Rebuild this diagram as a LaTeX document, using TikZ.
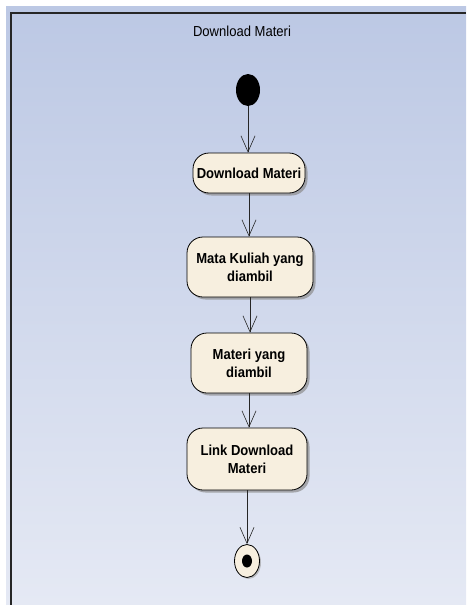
\documentclass[tikz,border=0pt]{standalone}
\usepackage{fontspec}
\newfontfamily\umlfont[FakeStretch=0.9]{Liberation Sans}
\usetikzlibrary{arrows.meta}
\usetikzlibrary{shapes.geometric}
\usetikzlibrary{shadows}

\definecolor{bgtop}{HTML}{BCC8E4}
\definecolor{bgbottom}{HTML}{E5E9F4}
\definecolor{actfill}{HTML}{F7EFDF}

\begin{document}
\begin{tikzpicture}[x=1pt,y=-1pt,
    font=\umlfont\fontsize{14.5}{18}\selectfont,
    action/.style={draw=black, line width=0.8pt, fill=actfill, rounded corners=16pt, align=center,
      font=\umlfont\bfseries\fontsize{14.5}{18}\selectfont, inner sep=0pt,
      drop shadow={shadow xshift=2.5pt, shadow yshift=-2.5pt, fill=black!45, opacity=0.7}},
    flow/.style={draw=black!85, line width=0.6pt, -{Straight Barb[length=16pt,width=14pt]}}]
      \useasboundingbox (0,0) rectangle (466,605);
      \fill [white] (0,0) rectangle (466,605);
      \shade [top color=bgtop, bottom color=bgbottom] (6,6) rectangle (466,605);
      \draw [black!85, line width=1.6pt] (11,605) -- (11,13) -- (466,13);

      \node (title) at (242,31) {Download Materi};

      \node [ellipse, fill=black, minimum width=24pt, minimum height=32pt, inner sep=0] (start) at (248,90) {};

      \node [action, minimum width=112pt, minimum height=40pt] (a1) at (249,173) {Download Materi};
      \node [action, minimum width=126pt, minimum height=60pt] (a2) at (250,267) {Mata Kuliah yang\\diambil};
      \node [action, minimum width=116pt, minimum height=60pt] (a3) at (249,363) {Materi yang\\diambil};
      \node [action, minimum width=120pt, minimum height=62pt] (a4) at (247,459) {Link Download\\Materi};

      \node [ellipse, draw=black, line width=0.8pt, fill=actfill, minimum width=25pt, minimum height=33pt, inner sep=0,
        drop shadow={shadow xshift=1.5pt, shadow yshift=-1.5pt, fill=black!40, opacity=0.6}] (end) at (247,561) {};
      \node [ellipse, fill=black, minimum width=10pt, minimum height=13pt, inner sep=0] (enddot) at (end.center) {};

      \draw [flow] (start) -- (start |- a1.north);
      \draw [flow] (a1) -- (a1 |- a2.north);
      \draw [flow] (a2) -- (a2 |- a3.north);
      \draw [flow] (a3) -- (a3 |- a4.north);
      \draw [flow] (a4) -- (end);

  \end{tikzpicture}
\end{document}
